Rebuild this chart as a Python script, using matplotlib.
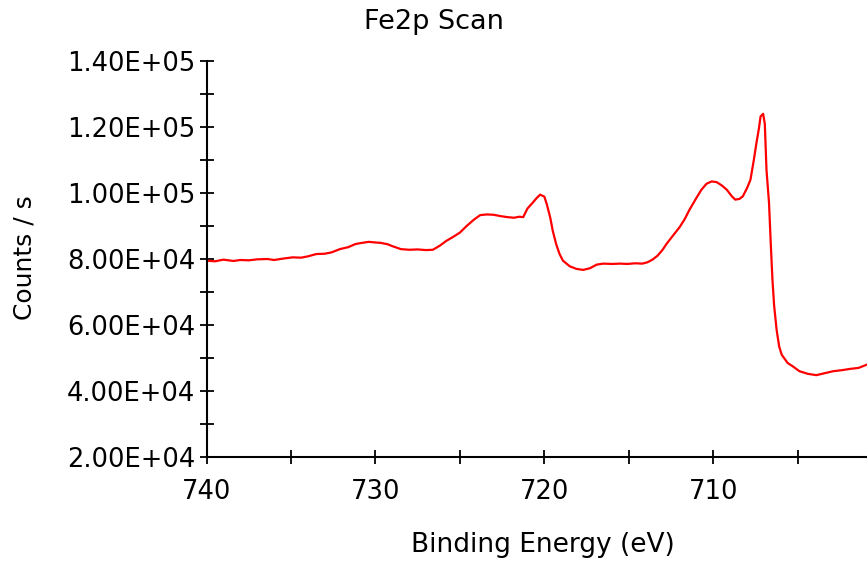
import matplotlib
matplotlib.use("Agg")
import matplotlib.pyplot as plt
from matplotlib.ticker import MultipleLocator, FormatStrFormatter

plt.rcParams['font.family'] = ['DejaVu Sans']

# Fe 2p region: binding energy (eV) and count rate (counts/s)
binding_energy = [
    740.0, 739.5, 739.0, 738.4, 738.0, 737.5, 737.0, 736.4, 736.0, 735.5,
    734.9, 734.4, 734.0, 733.5, 733.0, 732.6, 732.1, 731.6, 731.2, 730.9,
    730.4, 730.0, 729.7, 729.3, 729.0, 728.5, 728.0, 727.5, 727.0, 726.6,
    726.2, 725.8, 725.4, 725.0, 724.6, 724.2, 723.8, 723.4, 723.0, 722.6,
    722.2, 721.8, 721.5, 721.25, 721.0, 720.7, 720.45, 720.25, 720.0, 719.85,
    719.65, 719.5, 719.3, 719.1, 718.9, 718.5, 718.1, 717.7, 717.3, 716.9,
    716.5, 716.0, 715.5, 715.1, 714.6, 714.2, 713.9, 713.6, 713.3, 713.0,
    712.75, 712.4, 712.0, 711.7, 711.4, 711.0, 710.7, 710.4, 710.1, 709.8,
    709.5, 709.2, 708.9, 708.7, 708.45, 708.25, 708.0, 707.8, 707.6, 707.45,
    707.3, 707.2, 707.05, 706.95, 706.85, 706.7, 706.6, 706.5, 706.4, 706.25,
    706.1, 705.95, 705.6, 705.3, 704.9, 704.4, 703.9, 703.4, 702.9, 702.4,
    701.9, 701.4, 700.9,
]
counts = [
    79500, 79300, 79800, 79400, 79700, 79600, 79900, 80000, 79700, 80100,
    80500, 80400, 80800, 81500, 81600, 82000, 83000, 83600, 84500, 84800,
    85200, 85000, 84900, 84500, 83900, 83000, 82800, 82900, 82700, 82800,
    84000, 85500, 86700, 88000, 90000, 91800, 93300, 93500, 93400, 93000,
    92700, 92500, 92800, 92700, 95300, 97000, 98500, 99500, 98900, 96500,
    92500, 88500, 84500, 81500, 79500, 77800, 77000, 76700, 77200, 78300,
    78600, 78500, 78600, 78500, 78700, 78600, 79000, 79800, 81000, 82800,
    84700, 87000, 89600, 92000, 95000, 98500, 101000, 102800, 103500, 103300,
    102300, 101000, 99000, 98000, 98200, 99000, 101500, 104000, 110000, 115000,
    119500, 123200, 124000, 121000, 107000, 97000, 85000, 74000, 66000, 58500,
    53500, 51000, 48500, 47500, 46000, 45200, 44800, 45400, 46000, 46300,
    46700, 47000, 48000,
]

W, H = 867, 562
fig = plt.figure(figsize=(W / 100, H / 100), dpi=100)
ax = fig.add_axes([206.5 / W, 1 - 457 / H, 1 - 206.5 / W, (457 - 61) / H])

ax.plot(binding_energy, counts, color='#ff0000', linewidth=1.6)

ax.set_xlim(740, 700.9)
ax.set_ylim(20000, 140000)

ax.xaxis.set_major_locator(MultipleLocator(10))
ax.xaxis.set_minor_locator(MultipleLocator(5))
ax.yaxis.set_major_locator(MultipleLocator(20000))
ax.yaxis.set_minor_locator(MultipleLocator(10000))
ax.yaxis.set_major_formatter(FormatStrFormatter('%.2E'))
ax.xaxis.set_major_formatter(FormatStrFormatter('%d'))

for side in ('top', 'right'):
    ax.spines[side].set_visible(False)
for side in ('left', 'bottom'):
    ax.spines[side].set_linewidth(1.5)

ax.tick_params(axis='both', which='both', direction='inout', length=10,
               width=1.3, labelsize=18.5, colors='black')
ax.tick_params(axis='y', which='major', pad=3)
ax.tick_params(axis='x', which='major', pad=11)

fig.text(433.5 / W, 1 - 22 / H, 'Fe2p Scan', ha='center', va='center', fontsize=19.5)
fig.text(543 / W, 1 - 545 / H, 'Binding Energy (eV)', ha='center', va='center', fontsize=19)
fig.text(25 / W, 1 - 258 / H, 'Counts / s', ha='center', va='center',
         rotation=90, fontsize=18)

fig.savefig('out.png', dpi=100)
